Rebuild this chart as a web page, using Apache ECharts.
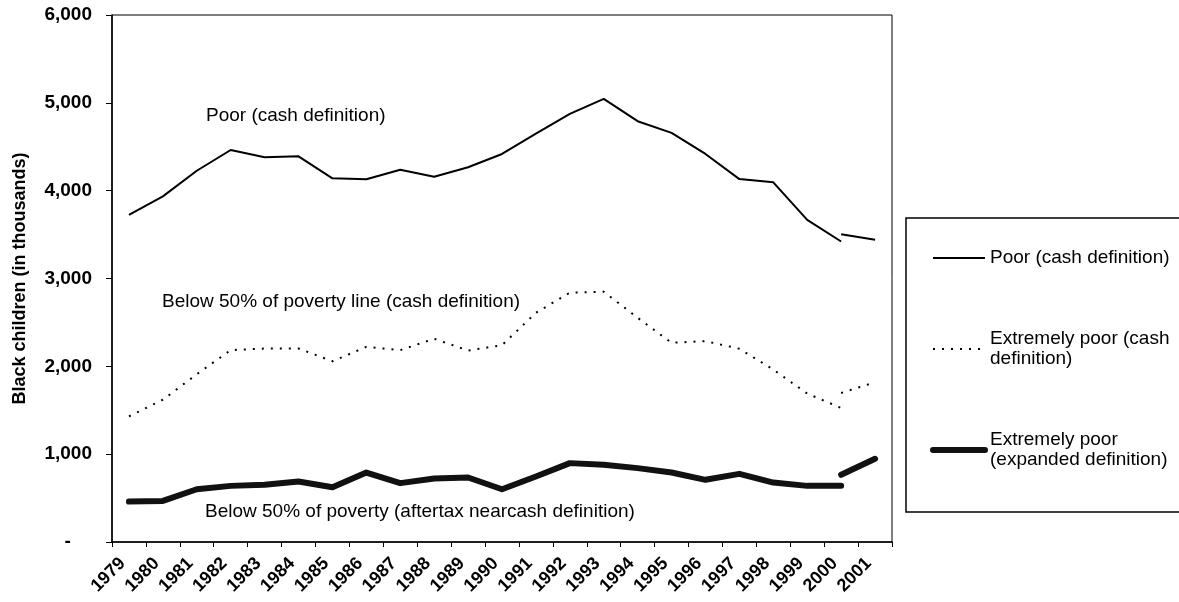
<!DOCTYPE html>
<html lang="en">
<head>
    <meta charset="utf-8">
    <title>Black children in poverty</title>
    <script src="https://cdn.jsdelivr.net/npm/echarts@6/dist/echarts.min.js"></script>
    <style>
        html, body { margin: 0; padding: 0; background: #fff; }
    </style>
</head>
<body>
<div id="main" style="width: 1179px;height:602px;"></div>

<script type="text/javascript">
    var years = ['1979', '1980', '1981', '1982', '1983', '1984', '1985', '1986', '1987', '1988', '1989', '1990',
        '1991', '1992', '1993', '1994', '1995', '1996', '1997', '1998', '1999', '2000', '2001'];

    // old series run 1979-2000, revised series 2000-2001
    var poorCash = [3725, 3935, 4227, 4463, 4380, 4391, 4140, 4129, 4239, 4159, 4266, 4418,
        4650, 4874, 5046, 4791, 4658, 4418, 4132, 4095, 3668, 3421, null];
    var poorCashNew = [3505, 3440];

    var extremeCash = [1430, 1620, 1910, 2185, 2203, 2203, 2058, 2222, 2184, 2314, 2180, 2241,
        2610, 2839, 2850, 2553, 2268, 2287, 2200, 1963, 1690, 1526, null];
    var extremeCashNew = [1697, 1818];

    var extremeExpanded = [460, 468, 601, 639, 651, 689, 624, 791, 670, 723, 734, 601,
        746, 898, 879, 841, 791, 708, 776, 677, 639, 639, null];
    var extremeExpandedNew = [765, 947];

    var nameA = 'Poor (cash definition)';
    var nameB = 'Extremely poor (cash\ndefinition)';
    var nameC = 'Extremely poor\n(expanded definition)';

    function tail(vals) {
        var out = [];
        for (var i = 0; i < years.length; i++) out.push(null);
        out[years.length - 2] = vals[0];
        out[years.length - 1] = vals[1];
        return out;
    }

    var font = "'Liberation Sans', Arial, sans-serif";

    var myChart = echarts.init(document.getElementById('main'));

    var dotted = {color: '#000', width: 2, type: [2, 7]};
    var thin = {color: '#000', width: 2};
    var thick = {color: '#111', width: 6, cap: 'round', join: 'round'};

    var option = {
        animation: false,
        backgroundColor: '#fff',
        grid: {
            left: 112, right: 287, top: 15, bottom: 60,
            show: true, borderColor: '#000', borderWidth: 1
        },
        legend: {
            orient: 'vertical',
            left: 906, top: 218,
            padding: [30, 14, 42, 24],
            borderColor: '#000', borderWidth: 1.5,
            itemGap: 61, itemWidth: 52, itemHeight: 14,
            itemStyle: {opacity: 0},
            data: [
                {name: nameA, lineStyle: {width: 2}},
                {name: nameB, lineStyle: {width: 2, type: [2, 7]}},
                {name: nameC, lineStyle: {width: 6}}
            ],
            textStyle: {fontFamily: font, fontSize: 19, color: '#000', lineHeight: 20}
        },
        xAxis: {
            type: 'category',
            data: years,
            boundaryGap: true,
            axisLine: {lineStyle: {color: '#000', width: 1.5}},
            axisTick: {show: true, length: 5, lineStyle: {color: '#000'}, interval: 0},
            axisLabel: {
                interval: 0, rotate: 45, margin: 25, verticalAlign: 'bottom',
                fontFamily: font, fontSize: 18, fontWeight: 'bold', color: '#000'
            },
            splitLine: {show: false}
        },
        yAxis: {
            type: 'value',
            min: 0, max: 6000, interval: 1000,
            name: 'Black children (in thousands)',
            nameLocation: 'middle',
            nameGap: 83,
            nameTextStyle: {fontFamily: font, fontSize: 18, fontWeight: 'bold', color: '#000'},
            axisLine: {show: true, lineStyle: {color: '#000', width: 1.5}},
            axisTick: {show: true, length: 6, lineStyle: {color: '#000'}},
            axisLabel: {
                margin: 20,
                fontFamily: font, fontSize: 19, fontWeight: 'bold', color: '#000',
                formatter: function (v) {
                    if (v === 0) return '-    ';
                    return v.toString().replace(/\B(?=(\d{3})+(?!\d))/g, ',');
                }
            },
            splitLine: {show: false}
        },
        graphic: [
            {type: 'text', left: 206, top: 106, style: {text: 'Poor (cash definition)', font: '19px ' + font, fill: '#000'}},
            {type: 'text', left: 162, top: 292, style: {text: 'Below 50% of poverty line (cash definition)', font: '19px ' + font, fill: '#000'}},
            {type: 'text', left: 205, top: 502, style: {text: 'Below 50% of poverty (aftertax nearcash definition)', font: '19px ' + font, fill: '#000'}}
        ],
        series: [
            {name: nameA, type: 'line', data: poorCash, symbol: 'none', lineStyle: thin, itemStyle: {color: '#000'}},
            {name: nameA, type: 'line', data: tail(poorCashNew), symbol: 'none', lineStyle: thin, itemStyle: {color: '#000'}},
            {name: nameB, type: 'line', data: extremeCash, symbol: 'none', lineStyle: dotted, itemStyle: {color: '#000'}},
            {name: nameB, type: 'line', data: tail(extremeCashNew), symbol: 'none', lineStyle: dotted, itemStyle: {color: '#000'}},
            {name: nameC, type: 'line', data: extremeExpanded, symbol: 'none', lineStyle: thick, itemStyle: {color: '#111'}},
            {name: nameC, type: 'line', data: tail(extremeExpandedNew), symbol: 'none', lineStyle: thick, itemStyle: {color: '#111'}}
        ]
    };

    myChart.setOption(option);
</script>

</body>
</html>
